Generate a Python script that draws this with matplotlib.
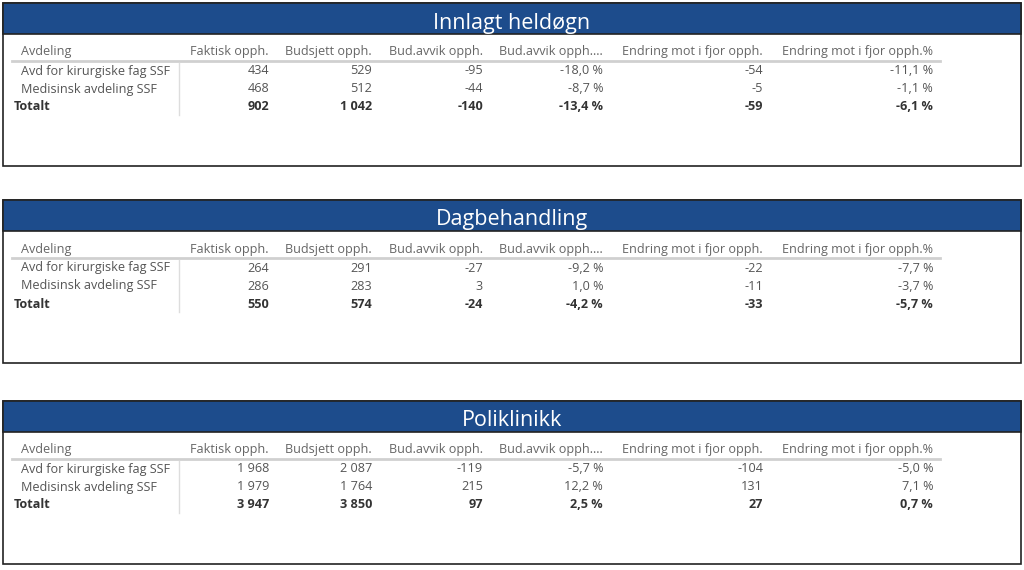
import matplotlib.pyplot as plt
from matplotlib.patches import Rectangle

plt.rcParams['font.family'] = ['Open Sans', 'DejaVu Sans']

titles = ["Innlagt heldøgn", "Dagbehandling", "Poliklinikk"]
columns = ["Avdeling", "Faktisk opph.", "Budsjett opph.", "Bud.avvik opph.",
           "Bud.avvik opph....", "Endring mot i fjor opph.", "Endring mot i fjor opph.%"]
departments = ["Avd for kirurgiske fag SSF", "Medisinsk avdeling SSF", "Totalt"]

innlagt = [
    ["434", "529", "-95", "-18,0 %", "-54", "-11,1 %"],
    ["468", "512", "-44", "-8,7 %", "-5", "-1,1 %"],
    ["902", "1 042", "-140", "-13,4 %", "-59", "-6,1 %"],
]
dagbeh = [
    ["264", "291", "-27", "-9,2 %", "-22", "-7,7 %"],
    ["286", "283", "3", "1,0 %", "-11", "-3,7 %"],
    ["550", "574", "-24", "-4,2 %", "-33", "-5,7 %"],
]
polikl = [
    ["1 968", "2 087", "-119", "-5,7 %", "-104", "-5,0 %"],
    ["1 979", "1 764", "215", "12,2 %", "131", "7,1 %"],
    ["3 947", "3 850", "97", "2,5 %", "27", "0,7 %"],
]
tables = [innlagt, dagbeh, polikl]

fig = plt.figure(figsize=(10.24, 5.70), dpi=100)
ax = fig.add_axes([0, 0, 1, 1])
ax.set_xlim(0, 1024)
ax.set_ylim(570, 0)
ax.axis('off')

blue = "#1D4C8C"
col_right = [269, 372, 483, 603, 763, 933]
panel_tops = [3, 200, 401]
panel_h = 163
fs = 9.1

for title, rows, top in zip(titles, tables, panel_tops):
    ax.add_patch(Rectangle((3, top), 1018, panel_h, fill=False, ec="#222222", lw=1.2))
    ax.add_patch(Rectangle((3, top), 1018, 31, fc=blue, ec="#222222", lw=1.2))
    ax.text(512, top + 20, title, color="white", fontsize=15.5, ha="center", va="center")

    hy = top + 49
    ax.text(21, hy, columns[0], color="#666666", fontsize=fs, va="center")
    for x, c in zip(col_right, columns[1:]):
        ax.text(x, hy, c, color="#666666", fontsize=fs, va="center", ha="right")
    ax.plot([12, 940], [top + 58, top + 58], color="#d0d0d0", lw=2)
    ax.plot([179, 179], [top + 60, top + 112], color="#dddddd", lw=1)

    for i, (name, vals) in enumerate(zip(departments, rows)):
        y = top + 68 + i * 18
        bold = i == 2
        color = "#333333" if bold else "#555555"
        weight = "bold" if bold else "normal"
        ax.text(14 if bold else 21, y, name, color=color, fontsize=fs,
                va="center", fontweight=weight)
        for x, v in zip(col_right, vals):
            ax.text(x, y, v, color=color, fontsize=fs, va="center", ha="right",
                    fontweight=weight)

fig.savefig("out.png", dpi=100)
